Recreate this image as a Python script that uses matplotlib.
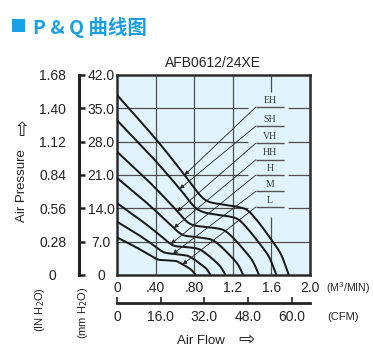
import numpy as np
import matplotlib
matplotlib.use("Agg")
import matplotlib.pyplot as plt
from matplotlib.patches import Rectangle

plt.rcParams['font.family'] = ['Liberation Sans', 'DejaVu Sans']

# ---------------- data ----------------
curve_names = ["EH", "SH", "VH", "HH", "H", "M", "L"]

q_eh = [0.00, 0.400, 0.700, 0.850, 0.950, 1.100, 1.250, 1.350, 1.450, 1.600, 1.700, 1.780]
p_eh = [37.8, 28.6, 21.0, 17.0, 15.4, 14.8, 14.3, 13.6, 11.5, 7.4, 4.3, 0.0]
q_sh = [0.00, 0.371, 0.650, 0.789, 0.882, 1.021, 1.160, 1.253, 1.346, 1.485, 1.578, 1.652]
p_sh = [32.5, 24.6, 18.1, 14.6, 13.3, 12.7, 12.3, 11.7, 9.9, 6.4, 3.7, 0.0]
q_vh = [0.00, 0.331, 0.579, 0.703, 0.786, 0.910, 1.034, 1.116, 1.199, 1.323, 1.406, 1.472]
p_vh = [25.9, 19.6, 14.4, 11.6, 10.5, 10.1, 9.8, 9.3, 7.9, 5.1, 2.9, 0.0]
q_hh = [0.00, 0.294, 0.515, 0.625, 0.698, 0.809, 0.919, 0.992, 1.066, 1.176, 1.250, 1.308]
p_hh = [20.4, 15.4, 11.3, 9.2, 8.3, 8.0, 7.7, 7.3, 6.2, 4.0, 2.3, 0.0]
q_h = [0.00, 0.253, 0.442, 0.537, 0.600, 0.695, 0.790, 0.853, 0.916, 1.011, 1.074, 1.125]
p_h = [15.1, 11.4, 8.4, 6.8, 6.1, 5.9, 5.7, 5.4, 4.6, 3.0, 1.7, 0.0]
q_m = [0.00, 0.218, 0.382, 0.463, 0.518, 0.600, 0.681, 0.736, 0.790, 0.872, 0.927, 0.970]
p_m = [11.2, 8.5, 6.2, 5.0, 4.6, 4.4, 4.2, 4.0, 3.4, 2.2, 1.3, 0.0]
q_l = [0.00, 0.183, 0.321, 0.389, 0.435, 0.504, 0.573, 0.618, 0.664, 0.733, 0.779, 0.815]
p_l = [7.9, 6.0, 4.4, 3.6, 3.2, 3.1, 3.0, 2.9, 2.4, 1.6, 0.9, 0.0]

curves_q = [q_eh, q_sh, q_vh, q_hh, q_h, q_m, q_l]
curves_p = [p_eh, p_sh, p_vh, p_hh, p_h, p_m, p_l]

label_levels = [35.3, 31.3, 27.7, 24.2, 21.0, 17.6, 14.3]   # mmH2O level of each label line
arrow_q = [0.70, 0.65, 0.625, 0.59, 0.56, 0.58, 0.68]        # flow where each leader points

flow_ticks = [0, 0.4, 0.8, 1.2, 1.6, 2.0]
flow_labels = ["0", ".40", ".80", "1.2", "1.6", "2.0"]
cfm_ticks = [0, 16, 32, 48, 64]
cfm_labels = ["0", "16.0", "32.0", "48.0", "60.0"]
mm_ticks = [0, 7, 14, 21, 28, 35, 42]
mm_labels = ["0", "7.0", "14.0", "21.0", "28.0", "35.0", "42.0"]
in_ticks = [0, 0.28, 0.56, 0.84, 1.12, 1.40, 1.68]
in_labels = ["0", "0.28", "0.56", "0.84", "1.12", "1.40", "1.68"]

# --------------- helpers ---------------
def smooth(xs, ys, n=24):
    P = np.column_stack([np.asarray(xs) * 96.0, np.asarray(ys) / 0.21])
    pts = np.vstack([2 * P[0] - P[1], P, 2 * P[-1] - P[-2]])
    out = []
    t = np.linspace(0, 1, n, endpoint=False)[:, None]
    for i in range(1, len(pts) - 2):
        p0, p1, p2, p3 = pts[i - 1], pts[i], pts[i + 1], pts[i + 2]
        seg = 0.5 * (2 * p1 + (-p0 + p2) * t + (2 * p0 - 5 * p1 + 4 * p2 - p3) * t ** 2
                     + (-p0 + 3 * p1 - 3 * p2 + p3) * t ** 3)
        out.append(seg)
    out.append(P[-1][None])
    a = np.vstack(out)
    return a[:, 0] / 96.0, a[:, 1] * 0.21

# --------------- figure ---------------
W, H = 373, 355
L, R, T, B = 117, 310, 75, 275
fig = plt.figure(figsize=(W / 100, H / 100), dpi=100)
ax = fig.add_axes([L / W, 1 - B / H, (R - L) / W, (B - T) / H])
ax.set_xlim(0, 2.0)
ax.set_ylim(0, 42)
ax.set_facecolor('#e1f3fc')
for s in ax.spines.values():
    s.set_color('#2b2b2b')
    s.set_linewidth(1.8)

txt_col = '#222222'
ax.set_xticks(flow_ticks, flow_labels)
ax.set_yticks(mm_ticks, mm_labels)
ax.tick_params(axis='x', length=0, pad=4, labelsize=10, labelcolor=txt_col)
ax.tick_params(axis='y', length=0, pad=11.5, labelsize=10, labelcolor=txt_col)
for lb in ax.get_yticklabels():
    lb.set_ha('center')

# grid (with gaps behind the label block)
gcol, glw = '#505050', 0.9
ax.hlines(7, 0, 2.0, color=gcol, lw=glw, zorder=1)
for yv in [14, 21, 28, 35]:
    ax.hlines(yv, 0, 1.354, color=gcol, lw=glw, zorder=1)
    ax.hlines(yv, 1.771, 2.0, color=gcol, lw=glw, zorder=1)
for xv in [0.4, 0.8, 1.2]:
    ax.vlines(xv, 0, 42, color=gcol, lw=glw, zorder=1)
ax.vlines(1.6, 0, 12.2, color=gcol, lw=glw, zorder=1)
ax.vlines(1.6, 38.4, 42, color=gcol, lw=glw, zorder=1)

# curves
for q, p in zip(curves_q, curves_p):
    xs, ys = smooth(q, p)
    ax.plot(xs, ys, color='#1a1a1a', lw=1.45, zorder=3, solid_capstyle='butt')

# labels and leaders
for name, lev, aq, q, p in zip(curve_names, label_levels, arrow_q, curves_q, curves_p):
    ax.hlines(lev, 1.44, 1.73, color='#555555', lw=1.0, zorder=2)
    ax.text(1.585, lev + 0.5, name, family=['Liberation Serif', 'DejaVu Serif'],
            fontsize=7, ha='center', va='bottom', color='#333333')
    tip_p = np.interp(aq, q, p)
    ax.annotate('', xy=(aq, tip_p), xytext=(1.44, lev),
                arrowprops=dict(arrowstyle='-|>', color='#222222', lw=0.6,
                                mutation_scale=6, shrinkA=0, shrinkB=0), zorder=4)

# secondary pressure axis (inch H2O)
sec_y = ax.secondary_yaxis((79 - L) / (R - L), functions=(lambda y: y / 25.0, lambda y: y * 25.0))
sec_y.set_yticks(in_ticks, in_labels)
sec_y.spines['left'].set_linewidth(2.2)
sec_y.spines['left'].set_color('#222222')
sec_y.tick_params(direction='in', length=4.5, width=1.8, pad=19, labelsize=10,
                  labelcolor=txt_col, color='#222222')
for lb in sec_y.get_yticklabels():
    lb.set_ha('center')

# secondary flow axis (CFM)
sec_x = ax.secondary_xaxis((B - 303) / (B - T), functions=(lambda q: q * 35.31, lambda c: c / 35.31))
sec_x.set_xticks(cfm_ticks, cfm_labels)
sec_x.spines['bottom'].set_linewidth(2.0)
sec_x.spines['bottom'].set_color('#222222')
sec_x.tick_params(direction='in', length=4, width=1.2, pad=5, labelsize=10,
                  labelcolor=txt_col, color='#222222')

# axis titles / units
def fx(px):
    return px / W

def fy(py):
    return 1 - py / H

fig.text(fx(326), fy(288), "(M$^3$/MIN)", fontsize=7.6, ha='left', va='center', color=txt_col)
fig.text(fx(327), fy(317), "(CFM)", fontsize=8, ha='left', va='center', color=txt_col)
fig.text(fx(201), fy(341), "Air Flow", fontsize=9.5, ha='center', va='center', color=txt_col)
fig.text(fx(247), fy(340), "\u21e8", fontsize=14, ha='center', va='center', color=txt_col,
         family=['DejaVu Sans'])
fig.text(fx(22), fy(186), "Air Pressure", fontsize=9.5, rotation=90,
         ha='center', va='center', color=txt_col)
fig.text(fx(22), fy(131), "\u21e7", fontsize=14, ha='center', va='center', color=txt_col,
         family=['DejaVu Sans'])
fig.text(fx(40), fy(310), "(IN H$_2$O)", fontsize=8, rotation=90, ha='center', va='center', color=txt_col)
fig.text(fx(83), fy(313), "(mm H$_2$O)", fontsize=8, rotation=90, ha='center', va='center', color=txt_col)
fig.text(fx(213), fy(63), "AFB0612/24XE", fontsize=10, ha='center', va='center', color=txt_col)

# title
blue = '#19a0e6'
fig.patches.append(Rectangle((fx(12), fy(32)), 13 / W, 13 / H, transform=fig.transFigure,
                             facecolor=blue, edgecolor='none'))
fig.text(fx(33), fy(27), "P & Q 曲线图", fontsize=14, fontweight='bold', color=blue,
         ha='left', va='center', family=['Noto Sans CJK SC', 'DejaVu Sans'])

fig.savefig("out.png", dpi=100)
